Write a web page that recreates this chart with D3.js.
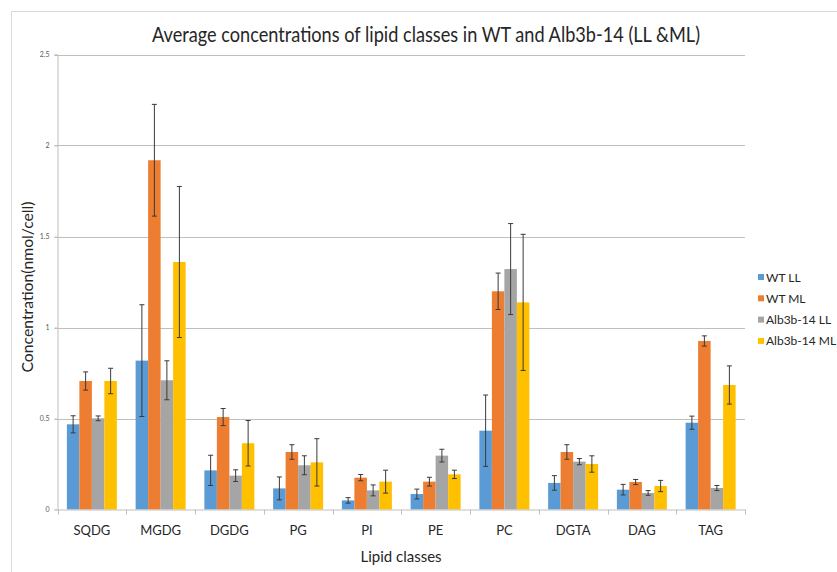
<!DOCTYPE html>
<html>
<head>
<meta charset="utf-8">
<script src="https://cdn.jsdelivr.net/npm/d3@7"></script>
<style>
  html, body { margin: 0; padding: 0; background: #fff; }
  svg { display: block; }
  text { font-family: Lato, "Open Sans", sans-serif; }
</style>
</head>
<body>
<svg id="chart" width="837" height="572"></svg>
<script>
// Lipid classes on the x axis
const categories = ["SQDG", "MGDG", "DGDG", "PG", "PI", "PE", "PC", "DGTA", "DAG", "TAG"];
const seriesNames = ["WT LL", "WT ML", "Alb3b-14 LL", "Alb3b-14 ML"];
const seriesColors = ["#5B9BD5", "#ED7D31", "#A5A5A5", "#FFC000"];

// Mean concentrations (nmol/cell) and their error margins
const wtLL       = [0.468, 0.818, 0.215, 0.116, 0.050, 0.085, 0.433, 0.146, 0.109, 0.477];
const wtLLErr    = [0.047, 0.307, 0.083, 0.063, 0.015, 0.027, 0.196, 0.040, 0.029, 0.036];
const wtML       = [0.706, 1.919, 0.508, 0.316, 0.175, 0.153, 1.199, 0.316, 0.151, 0.926];
const wtMLErr    = [0.050, 0.307, 0.047, 0.040, 0.017, 0.024, 0.100, 0.040, 0.014, 0.028];
const albLL      = [0.501, 0.710, 0.186, 0.243, 0.105, 0.296, 1.321, 0.263, 0.091, 0.118];
const albLLErr   = [0.013, 0.107, 0.032, 0.052, 0.030, 0.035, 0.250, 0.017, 0.013, 0.014];
const albML      = [0.706, 1.360, 0.364, 0.259, 0.153, 0.193, 1.138, 0.250, 0.129, 0.684];
const albMLErr   = [0.070, 0.415, 0.125, 0.130, 0.063, 0.023, 0.374, 0.045, 0.031, 0.105];

const yTicks = [0, 0.5, 1, 1.5, 2, 2.5];
const yTickLabels = ["0", "0.5", "1", "1.5", "2", "2.5"];

const seriesValues = [wtLL, wtML, albLL, albML];
const seriesErrors = [wtLLErr, wtMLErr, albLLErr, albMLErr];

const svg = d3.select("#chart");

// chart frame
svg.append("path")
  .attr("d", "M11.5,572 V11.5 H837")
  .attr("fill", "none")
  .attr("stroke", "#d9d9d9")
  .attr("stroke-width", 1);

const plot = { left: 57.5, right: 745, top: 54.5, bottom: 509.5 };

const x = d3.scaleBand().domain(categories).range([plot.left, plot.right]).paddingInner(0).paddingOuter(0);
const y = d3.scaleLinear().domain([0, 2.5]).range([plot.bottom, plot.top]);

// bar geometry inside each band (Excel style gap of 150%)
const barW = x.bandwidth() / 5.5;
const groupOffset = barW * 0.75;
const xs = d3.scaleBand().domain(d3.range(seriesNames.length))
  .range([groupOffset, groupOffset + barW * 4]).padding(0);

// horizontal gridlines
svg.append("g").selectAll("line")
  .data(yTicks.filter(t => t > 0))
  .join("line")
  .attr("x1", plot.left - 3).attr("x2", plot.right)
  .attr("y1", d => Math.round(y(d)) + 0.5).attr("y2", d => Math.round(y(d)) + 0.5)
  .attr("stroke", "#bfbfbf").attr("stroke-width", 1);

// y axis
const yAxis = d3.axisLeft(y).tickValues(yTicks)
  .tickFormat((d, i) => yTickLabels[i]).tickSize(3).tickPadding(5);
const gy = svg.append("g").attr("transform", `translate(${plot.left},0)`).call(yAxis);
gy.select(".domain").attr("stroke", "#bfbfbf");
gy.selectAll(".tick line").attr("stroke", "#bfbfbf");
gy.selectAll(".tick text").attr("fill", "#595959").attr("font-size", 7)
  .style("font-family", "Lato, sans-serif");

// bars
const groups = svg.append("g").selectAll("g")
  .data(categories)
  .join("g")
  .attr("transform", d => `translate(${x(d)},0)`);

groups.each(function (cat, ci) {
  const g = d3.select(this);
  seriesNames.forEach((s, si) => {
    const v = seriesValues[si][ci];
    const e = seriesErrors[si][ci];
    const bx = xs(si);
    g.append("rect")
      .attr("x", bx).attr("width", xs.bandwidth())
      .attr("y", y(v)).attr("height", y(0) - y(v))
      .attr("fill", seriesColors[si]);
    const cx = bx + xs.bandwidth() / 2;
    const eg = g.append("g").attr("stroke", "#3a3a3a").attr("stroke-width", 1);
    eg.append("line").attr("x1", cx).attr("x2", cx).attr("y1", y(v + e)).attr("y2", y(v - e));
    eg.append("line").attr("x1", cx - 2.5).attr("x2", cx + 2.5).attr("y1", y(v + e)).attr("y2", y(v + e));
    eg.append("line").attr("x1", cx - 2.5).attr("x2", cx + 2.5).attr("y1", y(v - e)).attr("y2", y(v - e));
  });
});

// x axis
const xAxis = d3.axisBottom(x).tickSize(0).tickPadding(16);
const gx = svg.append("g").attr("transform", `translate(0,${plot.bottom})`).call(xAxis);
gx.select(".domain").attr("stroke", "#bfbfbf");
gx.selectAll(".tick text").attr("fill", "#262626").attr("font-size", 13)
  .style("font-family", "Lato, sans-serif");
// category separators below the axis
svg.append("g").selectAll("line")
  .data(categories.map(c => x(c)).concat([plot.right]))
  .join("line")
  .attr("x1", d => Math.round(d) + 0.5).attr("x2", d => Math.round(d) + 0.5)
  .attr("y1", plot.bottom).attr("y2", plot.bottom + 5)
  .attr("stroke", "#bfbfbf");

// title
svg.append("text")
  .attr("x", 426).attr("y", 42)
  .attr("text-anchor", "middle")
  .attr("font-size", 21)
  .attr("fill", "#262626")
  .attr("textLength", 548).attr("lengthAdjust", "spacingAndGlyphs")
  .text("Average concentrations of lipid classes in WT and Alb3b-14 (LL &ML)");

// axis titles
svg.append("text")
  .attr("transform", "translate(33,287) rotate(-90)")
  .attr("text-anchor", "middle")
  .attr("font-size", 15)
  .attr("fill", "#262626")
  .attr("textLength", 171).attr("lengthAdjust", "spacingAndGlyphs")
  .text("Concentration(nmol/cell)");

svg.append("text")
  .attr("x", 401).attr("y", 562)
  .attr("text-anchor", "middle")
  .attr("font-size", 15)
  .attr("fill", "#262626")
  .text("Lipid classes");

// legend
const legend = svg.append("g").attr("transform", "translate(758,277)");
const items = legend.selectAll("g").data(seriesNames).join("g")
  .attr("transform", (d, i) => `translate(0,${i * 21.3})`);
items.append("rect").attr("x", 0).attr("y", -3).attr("width", 6).attr("height", 6)
  .attr("fill", (d, i) => seriesColors[i]);
items.append("text").attr("x", 8).attr("y", 4.5)
  .attr("font-size", 12).attr("fill", "#262626")
  .text(d => d);
</script>
</body>
</html>
